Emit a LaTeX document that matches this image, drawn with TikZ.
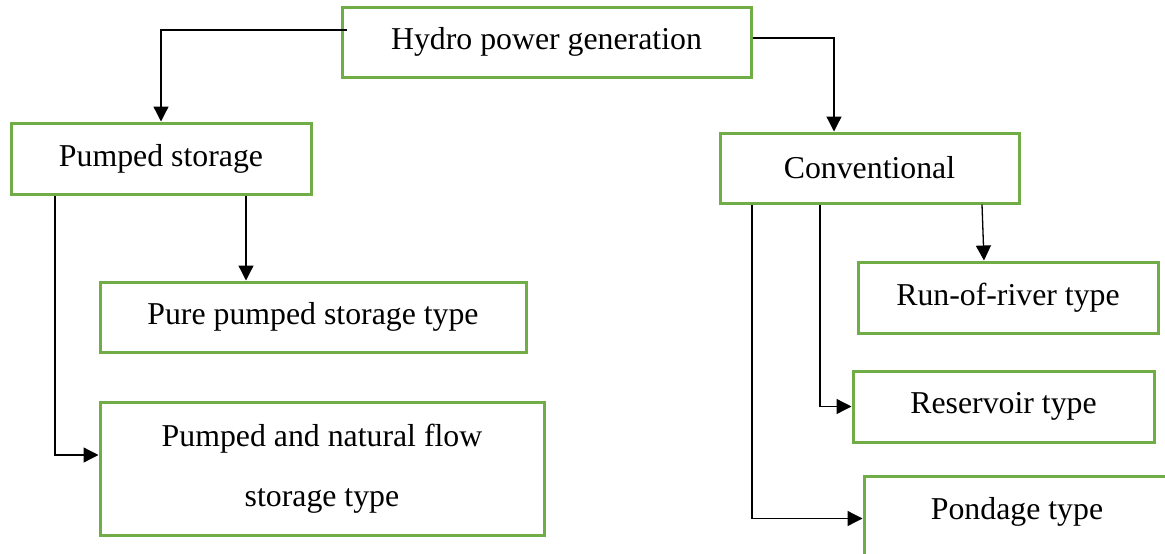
\documentclass[tikz,border=0pt]{standalone}
\usepackage{fontspec}
\setmainfont{Liberation Serif}
\usetikzlibrary{arrows.meta}
\definecolor{boxgreen}{HTML}{70AD47}
\begin{document}
\begin{tikzpicture}[x=1pt,y=-1pt,
  box/.style={draw=boxgreen,line width=3pt,fill=white,rectangle,inner sep=0pt,
    font=\fontsize{31.8}{38}\selectfont},
  arr/.style={draw=black,line width=1.3pt,-{Triangle[length=15pt,width=15pt]}}]
\useasboundingbox (0,0) rectangle (1165,554);
\node[box,minimum width=409pt,minimum height=70pt] (hydro) at (546.5,42) {Hydro power generation};
\node[box,minimum width=300pt,minimum height=71pt] (ps) at (161,158.5) {Pumped storage};
\node[box,minimum width=299pt,minimum height=70pt] (conv) at (869.5,168) {Conventional};
\node[box,minimum width=426pt,minimum height=70pt] (pure) at (313,317) {Pure pumped storage type};
\node[box,minimum width=444pt,minimum height=133pt,align=center,
  font=\fontsize{31.8}{60}\selectfont] (pnf) at (322,468.5) {Pumped and natural flow\\storage type};
\node[box,minimum width=300pt,minimum height=71pt] (rr) at (1008,297.5) {Run-of-river type};
\node[box,minimum width=301pt,minimum height=71pt] (res) at (1003.5,406.5) {Reservoir type};
\node[box,minimum width=306pt,text height=43pt,text depth=60pt,anchor=north] (pond) at (1017,475) {Pondage type};
% connectors
\draw[arr] ([xshift=6pt,yshift=12pt]hydro.west) -| (ps.north);
\draw[arr] ([yshift=4pt]hydro.east) -| ([xshift=-35.5pt]conv.north);
\draw[arr] ([xshift=-106pt]ps.south) |- ([yshift=13.5pt]pnf.west);
\draw[arr] ([xshift=85pt]ps.south) -- ([xshift=85pt]ps.south |- pure.north);
\draw[arr] ([xshift=-117.5pt]conv.south) |- ([yshift=9.5pt]pond.west);
\draw[arr] ([xshift=-49.5pt]conv.south) |- (res.west);
\draw[arr] ([xshift=112.5pt]conv.south) -- ([xshift=-24pt]rr.north);
\end{tikzpicture}
\end{document}
